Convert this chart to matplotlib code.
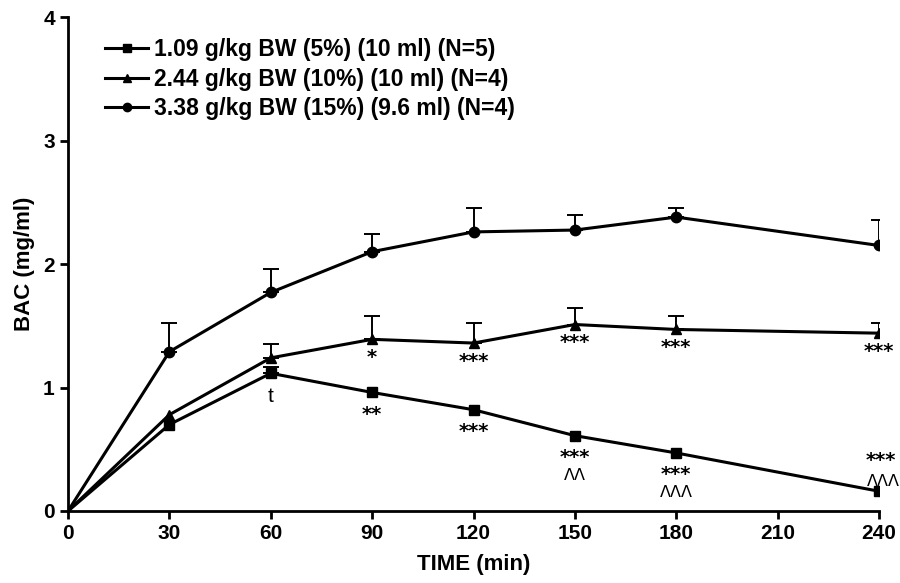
import numpy as np
import matplotlib
matplotlib.use("Agg")
import matplotlib.pyplot as plt
from matplotlib.lines import Line2D

plt.rcParams['font.family'] = ['Liberation Sans', 'DejaVu Sans']
plt.rcParams['font.weight'] = 'bold'

time = [0, 30, 60, 90, 120, 150, 180, 240]

# BAC means (mg/ml) and upper SEM per dose group
low_mean = [0, 0.70, 1.115, 0.96, 0.82, 0.61, 0.47, 0.16]
low_err = [0, 0, 0.055, 0, 0, 0, 0, 0]
mid_mean = [0, 0.78, 1.24, 1.39, 1.36, 1.51, 1.47, 1.44]
mid_err = [0, 0, 0.11, 0.19, 0.16, 0.13, 0.11, 0.08]
high_mean = [0, 1.29, 1.77, 2.10, 2.26, 2.275, 2.38, 2.15]
high_err = [0, 0.23, 0.19, 0.14, 0.19, 0.125, 0.07, 0.21]

labels = ['1.09 g/kg BW (5%) (10 ml) (N=5)',
          '2.44 g/kg BW (10%) (10 ml) (N=4)',
          '3.38 g/kg BW (15%) (9.6 ml) (N=4)']

# significance marks: (time, stars, carets)
mid_marks = [(90, '*', ''), (120, '***', ''), (150, '***', ''), (180, '***', ''), (240, '***', '')]
low_marks = [(90, '**', ''), (120, '***', ''), (150, '***', 'ΛΛ'), (180, '***', 'ΛΛΛ')]
low_marks_above = [(240, '***', 'ΛΛΛ')]

fig = plt.figure(figsize=(9, 5.83), dpi=100)
ax = fig.add_axes([0.0756, 0.1235, 0.9011, 0.8473])

series = [(low_mean, low_err, 's'), (mid_mean, mid_err, '^'), (high_mean, high_err, 'o')]
handles = []
for (m, e, mk), lab in zip(series, labels):
    ax.plot(time, m, color='black', lw=2.2, marker=mk, ms=7.5, markevery=list(range(1, len(time))),
            zorder=3)
    idx = [i for i in range(len(time)) if e[i] > 0]
    ax.errorbar([time[i] for i in idx], [m[i] for i in idx],
                yerr=[np.zeros(len(idx)), [e[i] for i in idx]], fmt='none', ecolor='black',
                capsize=6, elinewidth=1.4, capthick=1.4, zorder=2)
    handles.append(Line2D([], [], color='black', lw=2.2, marker=mk, ms=6, label=lab))

star_size = 14
star_font = dict(family='DejaVu Sans', fontsize=star_size, fontweight='bold')
caret_font = dict(family='DejaVu Sans', fontsize=11.5, fontweight='normal')
descent = 0.24 * star_size


def mark(t, y, stars, carets, below_pt, above=False):
    # offsets in points; stars on their baseline, carets just under the stars
    if above:
        ax.annotate(carets, (t, y), xytext=(3, 4), textcoords='offset points',
                    ha='center', va='baseline', **caret_font)
        ax.annotate(stars, (t, y), xytext=(1, 18), textcoords='offset points',
                    ha='center', va='baseline', **star_font)
        return
    ax.annotate(stars, (t, y), xytext=(0, -below_pt), textcoords='offset points',
                ha='center', va='baseline', **star_font)
    if carets:
        ax.annotate(carets, (t, y), xytext=(0, -below_pt - descent - 0.3), textcoords='offset points',
                    ha='center', va='top', **caret_font)


for t, s, c in mid_marks:
    mark(t, mid_mean[time.index(t)], s, c, 17)
for t, s, c in low_marks:
    mark(t, low_mean[time.index(t)], s, c, 19.5)
for t, s, c in low_marks_above:
    mark(t, low_mean[time.index(t)], s, c, 0, above=True)
ax.annotate('t', (60, low_mean[2]), xytext=(0, -20.5), textcoords='offset points',
            ha='center', va='baseline', fontsize=15, fontweight='normal')

ax.set_xlim(0, 240)
ax.set_ylim(0, 4)
ax.set_xticks(range(0, 241, 30))
ax.set_yticks([0, 1, 2, 3, 4])
ax.spines['top'].set_visible(False)
ax.spines['right'].set_visible(False)
for sp in ['left', 'bottom']:
    ax.spines[sp].set_linewidth(2)
ax.tick_params(width=2, length=6, labelsize=15)
ax.set_xlabel('TIME (min)', fontsize=16, fontweight='bold', labelpad=8)
ax.set_ylabel('BAC (mg/ml)', fontsize=16, fontweight='bold', labelpad=6)

ax.legend(handles=handles, loc='upper left', bbox_to_anchor=(0.02, 1.0), frameon=False,
          fontsize=16.5, handlelength=1.9, handletextpad=0.25, labelspacing=0.3)

fig.savefig('out.png', dpi=100)
